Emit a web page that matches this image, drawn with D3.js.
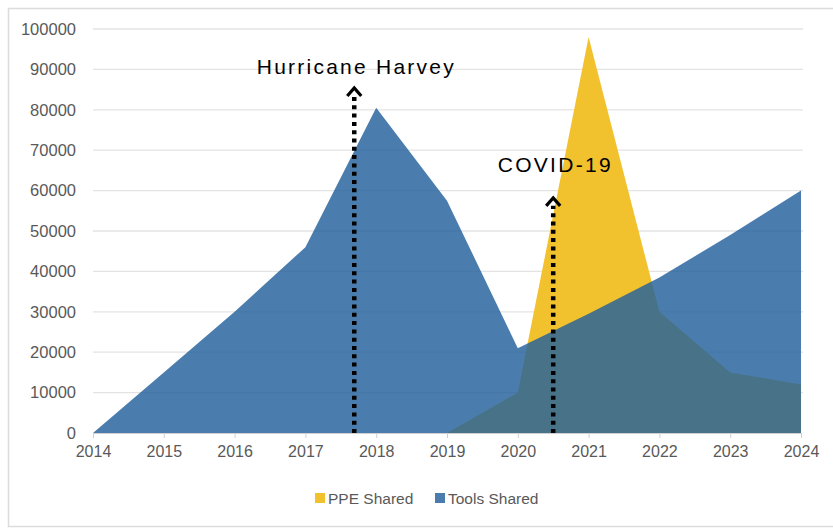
<!DOCTYPE html>
<html><head><meta charset="utf-8">
<script src="https://cdn.jsdelivr.net/npm/d3@7"></script>
<style>body{margin:0;background:#fff;}svg{display:block;}</style>
</head><body><svg id="c" width="833" height="529"></svg>
<script>
const years = [2014,2015,2016,2017,2018,2019,2020,2021,2022,2023,2024];
const ppeShared = [0,0,0,0,0,0,10000,98000,30000,15000,12000];
const toolsShared = [0,15000,30000,46000,80500,57500,21000,29500,38500,49000,60000];
const yTicks = [0,10000,20000,30000,40000,50000,60000,70000,80000,90000,100000];
const seriesNames = ["PPE Shared","Tools Shared"];
const seriesColors = ["#f2c12e","#22609b"];
const annotations = [{label:"Hurricane Harvey", year:2017.69, top:85400, textAt:88800, textW:197},
                     {label:"COVID-19", year:2020.5, top:58200, textAt:64600, textW:113}];

const svg = d3.select("#c");
const font = "'Liberation Sans', Arial, sans-serif";
// outer frame
svg.append("rect").attr("x",8.5).attr("y",8.5).attr("width",840).attr("height",518)
  .attr("fill","none").attr("stroke","#dcdcdc").attr("stroke-width",1.5);

const x = d3.scaleLinear().domain([2014,2024]).range([93,801]);
const y = d3.scaleLinear().domain([0,100000]).range([433,29]);

// grid
svg.append("g").selectAll("line").data(yTicks.slice(1)).join("line")
  .attr("x1",93).attr("x2",803).attr("y1",d=>y(d)).attr("y2",d=>y(d))
  .attr("stroke","#e3e3e3").attr("stroke-width",1.3);

// areas
const area = vals => d3.area().x((d,i)=>x(years[i])).y0(y(0)).y1(d=>y(d))(vals);
svg.append("path").attr("d",area(ppeShared)).attr("fill",seriesColors[0]);
svg.append("path").attr("d",area(toolsShared)).attr("fill",seriesColors[1]).attr("fill-opacity",0.82);

// x axis
const xAxis = svg.append("g").attr("transform","translate(0,433)")
  .call(d3.axisBottom(x).tickValues(years).tickFormat(d3.format("d")).tickSize(5).tickPadding(8));
xAxis.select(".domain").attr("stroke","#d0d0d0");
xAxis.selectAll(".tick line").attr("stroke","#d0d0d0");
xAxis.selectAll("text").attr("fill","#595959").style("font-family",font).style("font-size","16px");

// y axis
const yAxis = svg.append("g").attr("transform","translate(76,0)")
  .call(d3.axisLeft(y).tickValues(yTicks).tickFormat(d3.format("d")).tickSize(0).tickPadding(0));
yAxis.select(".domain").remove();
yAxis.selectAll("text").attr("fill","#595959").style("font-family",font).style("font-size","16.5px");

// annotations
annotations.forEach(a=>{
  const ax = x(a.year), ay = y(a.top);
  svg.append("line").attr("x1",ax).attr("x2",ax).attr("y1",y(0)).attr("y2",ay+8)
    .attr("stroke","#000").attr("stroke-width",4.5).attr("stroke-dasharray","4,4.3");
  svg.append("path").attr("d",`M${ax-7},${ay+8}L${ax},${ay}L${ax+7},${ay+8}`)
    .attr("fill","none").attr("stroke","#000").attr("stroke-width",3.2);
  svg.append("text").attr("x",ax - a.textW/2 + 1).attr("y",y(a.textAt))
    .attr("textLength",a.textW).attr("lengthAdjust","spacing")
    .style("font-family",font).style("font-size","21px").attr("fill","#000").text(a.label);
});

// legend
const leg = svg.append("g");
const legX = [315,435];
seriesNames.forEach((n,i)=>{
  leg.append("rect").attr("x",legX[i]).attr("y",493).attr("width",10).attr("height",10)
    .attr("fill",seriesColors[i]).attr("fill-opacity", i===1?0.82:1);
  leg.append("text").attr("x",legX[i]+13).attr("y",503.5).text(n)
    .attr("fill","#595959").style("font-family",font).style("font-size","15.5px");
});
</script></body></html>
